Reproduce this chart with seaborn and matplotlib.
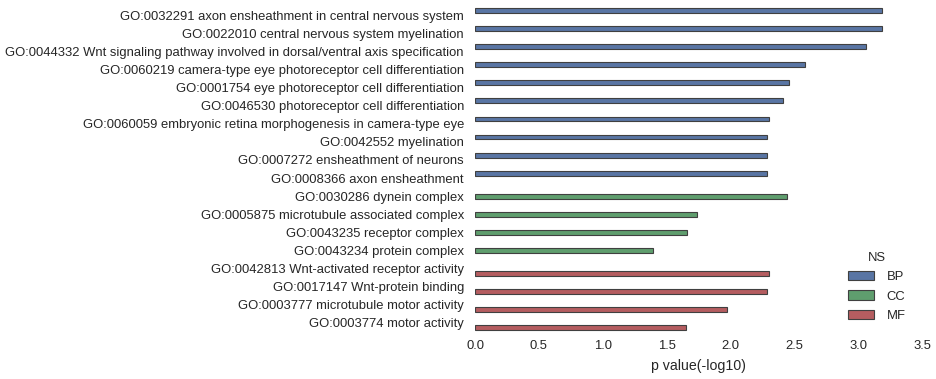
import seaborn as sns
import matplotlib.pyplot as plt
import pandas as pd

# GO terms, in display order
terms_bp = [
    "GO:0032291 axon ensheathment in central nervous system",
    "GO:0022010 central nervous system myelination",
    "GO:0044332 Wnt signaling pathway involved in dorsal/ventral axis specification",
    "GO:0060219 camera-type eye photoreceptor cell differentiation",
    "GO:0001754 eye photoreceptor cell differentiation",
    "GO:0046530 photoreceptor cell differentiation",
    "GO:0060059 embryonic retina morphogenesis in camera-type eye",
    "GO:0042552 myelination",
    "GO:0007272 ensheathment of neurons",
    "GO:0008366 axon ensheathment",
]
pval_bp = [3.19, 3.19, 3.06, 2.58, 2.46, 2.41, 2.30, 2.29, 2.29, 2.29]

terms_cc = [
    "GO:0030286 dynein complex",
    "GO:0005875 microtubule associated complex",
    "GO:0043235 receptor complex",
    "GO:0043234 protein complex",
]
pval_cc = [2.44, 1.74, 1.66, 1.39]

terms_mf = [
    "GO:0042813 Wnt-activated receptor activity",
    "GO:0017147 Wnt-protein binding",
    "GO:0003777 microtubule motor activity",
    "GO:0003774 motor activity",
]
pval_mf = [2.30, 2.29, 1.97, 1.65]

df = pd.DataFrame({
    "term": terms_bp + terms_cc + terms_mf,
    "pval": pval_bp + pval_cc + pval_mf,
    "NS": ["BP"] * len(terms_bp) + ["CC"] * len(terms_cc) + ["MF"] * len(terms_mf),
})

sns.set_style("white")
plt.rcParams["font.family"] = ["Liberation Sans", "DejaVu Sans"]

fig, ax = plt.subplots(figsize=(9.37, 3.79), dpi=100)
sns.barplot(data=df, x="pval", y="term", hue="NS", dodge=True, orient="h",
            palette=["#4C72B0", "#55A868", "#C44E52"],
            edgecolor=".25", linewidth=0.8, ax=ax)

ax.set_xlim(0, 3.5)
ax.set_xticks([0, 0.5, 1.0, 1.5, 2.0, 2.5, 3.0, 3.5])
ax.set_xlabel("p value(-log10)", fontsize=10.2, labelpad=5)
ax.set_ylabel("")
ax.tick_params(axis="both", length=0, labelsize=9.4)
ax.tick_params(axis="y", pad=8)
ax.tick_params(axis="x", pad=6)
sns.despine(left=True, bottom=True)

leg = ax.legend(title="NS", loc="lower right", bbox_to_anchor=(0.99, -0.005),
                frameon=False, fontsize=9.4, title_fontsize=9.4,
                handlelength=2.0, labelspacing=0.55, handletextpad=1.0)

plt.subplots_adjust(left=0.507, right=0.984, top=0.984, bottom=0.124)
plt.savefig("out.png", dpi=100)
